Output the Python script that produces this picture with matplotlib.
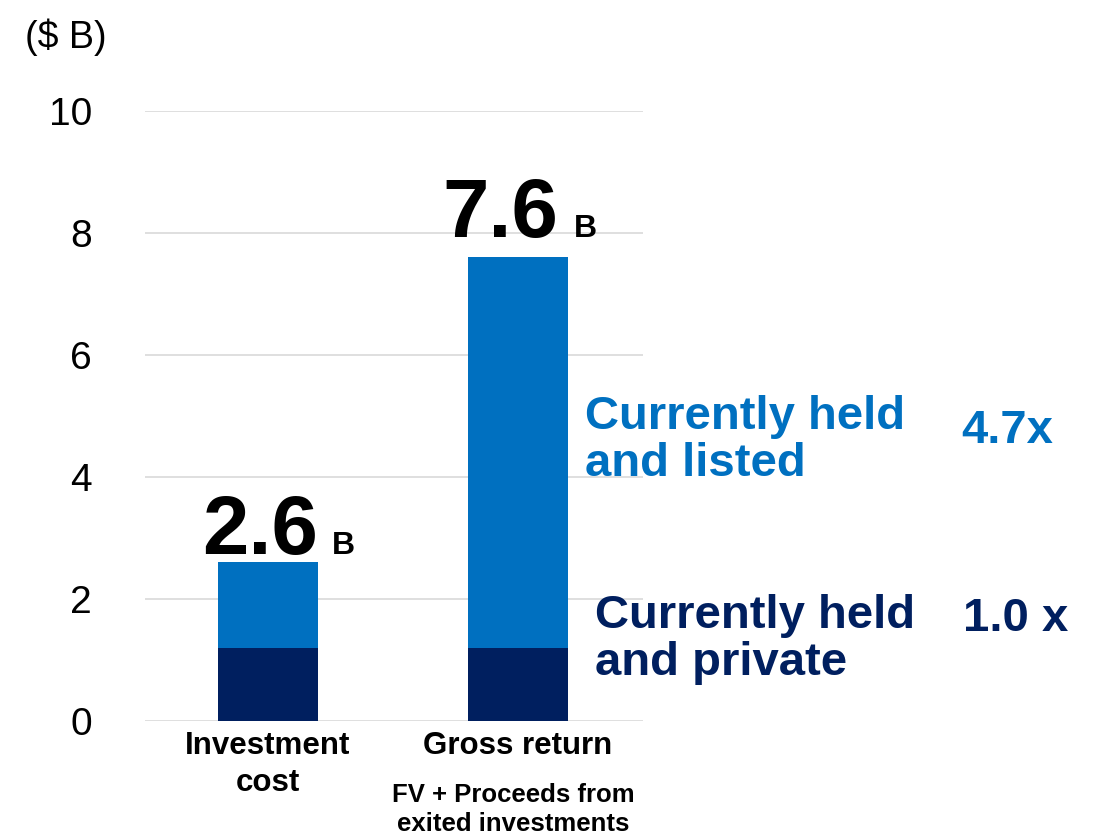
import matplotlib.pyplot as plt

plt.rcParams['font.family'] = ['Liberation Sans', 'DejaVu Sans']

# data ($ B)
categories = ['Investment\ncost', 'Gross return']
private_vals = [1.2, 1.2]
listed_vals = [1.4, 6.4]
totals = [2.6, 7.6]
total_labels = ['2.6', '7.6']
y_ticks = [0, 2, 4, 6, 8, 10]

light_blue = '#0070C0'
navy = '#001F5F'

fig = plt.figure(figsize=(10.94, 8.36), dpi=100)
ax = fig.add_axes([0.1325, 0.1376, 0.4552, 0.7296])

x = list(range(len(categories)))
ax.bar(x, private_vals, width=0.4, color=navy, zorder=3)
ax.bar(x, listed_vals, width=0.4, bottom=private_vals, color=light_blue, zorder=3)

ax.set_xlim(-0.49, 1.5)
ax.set_ylim(0, 10)
ax.set_yticks(y_ticks)
ax.yaxis.grid(True, color='#D9D9D9', linewidth=1.2, zorder=0)
ax.tick_params(axis='y', length=0, pad=38, labelsize=28)
ax.tick_params(axis='x', length=0, pad=7)
ax.set_xticks(x)
ax.set_xticklabels(categories, fontsize=22.5, fontweight='bold', linespacing=1.3)
for s in ax.spines.values():
    s.set_visible(False)

# value labels on top of bars (offsets in points)
num_dx = [36, 29]
b_dx = [46, 40]
gaps = [6, 15]
for i, (t, lab) in enumerate(zip(totals, total_labels)):
    ax.annotate(lab, xy=(i, t), xytext=(num_dx[i], gaps[i]), textcoords='offset points',
                ha='right', va='baseline', fontsize=60, fontweight='bold')
    ax.annotate('B', xy=(i, t), xytext=(b_dx[i], gaps[i]), textcoords='offset points',
                ha='left', va='baseline', fontsize=23, fontweight='bold')

ax.annotate('FV + Proceeds from\nexited investments', xy=(1, 0),
            xycoords=('data', 'axes fraction'), xytext=(-3, -45),
            textcoords='offset points', ha='center', va='top',
            fontsize=18.5, fontweight='bold', linespacing=1.25)

fig.text(0.023, 0.955, '($ B)', fontsize=27, va='center', ha='left')

fig.text(0.535, 0.528, 'Currently held\nand listed', color=light_blue,
         fontsize=34, fontweight='bold', va='top', ha='left', linespacing=1.1)
fig.text(0.879, 0.470, '4.7x', color=light_blue, fontsize=34,
         fontweight='bold', va='baseline', ha='left')
fig.text(0.544, 0.290, 'Currently held\nand private', color=navy,
         fontsize=34, fontweight='bold', va='top', ha='left', linespacing=1.1)
fig.text(0.880, 0.245, '1.0 x', color=navy, fontsize=34,
         fontweight='bold', va='baseline', ha='left')

fig.savefig('out.png', dpi=100)
